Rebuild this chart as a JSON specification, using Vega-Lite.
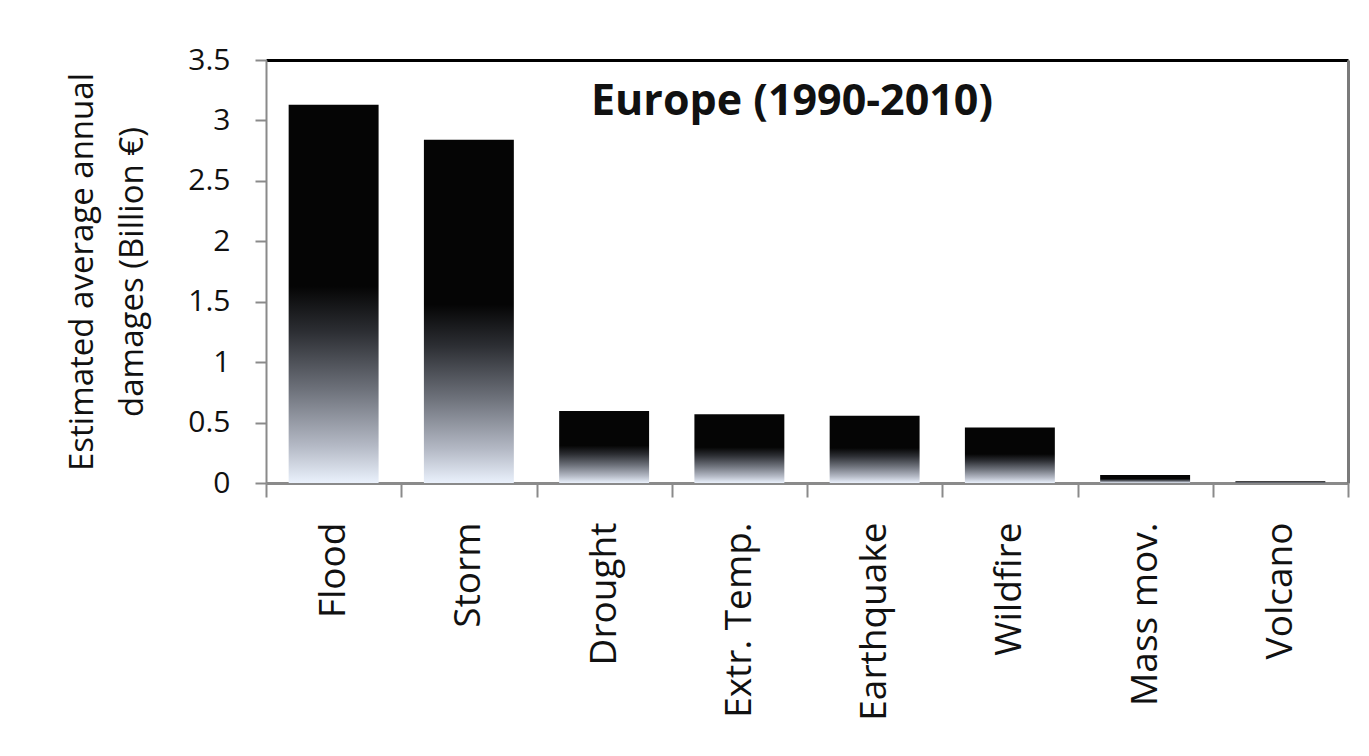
{
  "$schema": "https://vega.github.io/schema/vega-lite/v6.json",
  "width": 1082,
  "height": 423,
  "autosize": {"type": "none"},
  "padding": {"left": 266, "top": 60, "right": 21, "bottom": 273},
  "background": "#ffffff",
  "config": {
    "font": "Open Sans",
    "view": {"stroke": null},
    "axis": {"labelFont": "Open Sans", "titleFont": "Open Sans", "labelColor": "#111111", "titleColor": "#111111"}
  },
  "title": {
    "text": "Europe (1990-2010)",
    "font": "Open Sans",
    "fontSize": 43,
    "fontWeight": "bold",
    "color": "#111111",
    "anchor": "middle",
    "baseline": "top",
    "offset": -20,
    "dy": 59,
    "dx": -15
  },
  "data": {
    "values": [
      {"hazard": "Flood", "damage": 3.13},
      {"hazard": "Storm", "damage": 2.84},
      {"hazard": "Drought", "damage": 0.595},
      {"hazard": "Extr. Temp.", "damage": 0.568},
      {"hazard": "Earthquake", "damage": 0.557},
      {"hazard": "Wildfire", "damage": 0.46},
      {"hazard": "Mass mov.", "damage": 0.066},
      {"hazard": "Volcano", "damage": 0.015}
    ]
  },
  "resolve": {"axis": {"x": "independent", "y": "independent"}},
  "layer": [
    {
      "mark": {
        "type": "bar",
        "width": {"band": 0.665},
        "color": {
          "gradient": "linear",
          "x1": 0, "y1": 0, "x2": 0, "y2": 1,
          "stops": [
            {"offset": 0, "color": "#050505"},
            {"offset": 0.48, "color": "#050505"},
            {"offset": 0.6, "color": "#2c2e33"},
            {"offset": 0.75, "color": "#6c7079"},
            {"offset": 0.9, "color": "#b3b8c4"},
            {"offset": 1, "color": "#eaf1fc"}
          ]
        }
      },
      "encoding": {
        "x": {
          "field": "hazard",
          "type": "nominal",
          "sort": null,
          "scale": {"paddingInner": 0, "paddingOuter": 0},
          "axis": {
            "title": null,
            "orient": "bottom",
            "tickBand": "extent",
            "labelAngle": -90,
            "labelFontSize": 37,
            "labelLimit": 0,
            "labelPadding": 25,
            "tickSize": 14,
            "tickWidth": 2,
            "tickColor": "#8a8a8a",
            "domainColor": "#8a8a8a",
            "domainWidth": 3
          }
        },
        "y": {
          "field": "damage",
          "type": "quantitative",
          "scale": {"domain": [0, 3.5], "nice": false},
          "axis": {
            "title": ["Estimated average annual", "damages (Billion €)"],
            "values": [0, 0.5, 1, 1.5, 2, 2.5, 3, 3.5],
            "format": "~g",
            "grid": false,
            "labelFontSize": 30,
            "labelPadding": 25,
            "tickSize": 11,
            "tickWidth": 2,
            "tickColor": "#8a8a8a",
            "domainColor": "#8a8a8a",
            "domainWidth": 2,
            "titleFontSize": 33,
            "titleFontWeight": "normal",
            "titleLineHeight": 50,
            "titleAngle": -90,
            "titleAlign": "center",
            "titleBaseline": "alphabetic",
            "titleX": -174,
            "titleY": 211.5
          }
        }
      }
    },
    {
      "mark": {"type": "bar", "opacity": 0, "width": {"band": 0.665}},
      "encoding": {
        "x": {
          "field": "hazard",
          "type": "nominal",
          "sort": null,
          "axis": {"orient": "top", "title": null, "labels": false, "ticks": false, "domainColor": "#000000", "domainWidth": 3}
        },
        "y": {
          "field": "damage",
          "type": "quantitative",
          "axis": {"orient": "right", "title": null, "labels": false, "ticks": false, "grid": false, "domainColor": "#7a7a7a", "domainWidth": 3}
        }
      }
    }
  ]
}
